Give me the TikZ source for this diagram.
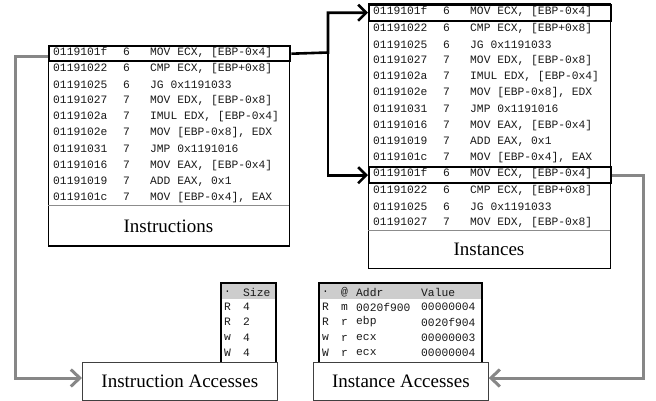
\documentclass[tikz,border=0pt]{standalone}
\usepackage{fontspec}
\setmainfont{Liberation Serif}
\newfontfamily\scrmono{Liberation Mono}
\usetikzlibrary{arrows.meta}
\definecolor{gcol}{RGB}{135,135,135}
\definecolor{hdrgray}{RGB}{205,205,205}
\newcommand\insrow[6]{\node[rowtxt] (#1) at (#2,#3) {\makebox[70pt][l]{#4}\makebox[27pt][l]{#5}#6};}
\begin{document}
\begin{tikzpicture}[x=1pt,y=-1pt,
  rowtxt/.style={anchor=west,inner sep=0pt,font=\scrmono\fontsize{11.3}{12}\selectfont,text=black!90},
  smalltxt/.style={anchor=west,inner sep=0pt,font=\scrmono\fontsize{11.3}{12}\selectfont,text=black!90},
  panel/.style={draw=black,line width=0.8pt,fill=white},
  hlbox/.style={draw=black,line width=2.4pt,inner sep=0pt,anchor=north west},
  lbl/.style={font=\fontsize{19}{20}\selectfont,inner sep=0pt},
  accbox/.style={draw=black!75,line width=0.7pt,fill=white,anchor=north west,inner sep=0pt},
  blk/.style={draw=black,line width=2.6pt,-{Straight Barb[length=8pt,width=16pt,line width=2.6pt]}},
  gry/.style={draw=gcol,line width=3pt,-{Straight Barb[length=9pt,width=17pt,line width=3pt]}}]
\useasboundingbox (0,0) rectangle (656,400);
\fill[white] (0,0) rectangle (656,400);

% ---------- Instructions panel ----------
\draw[panel] (48,45) rectangle (289,246);
\draw[black!45,line width=0.6pt] (48,205) -- (289,205);
\draw[black,line width=1.6pt] (48,246) -- (289,246);
\node[lbl] (inslbl) at (168.5,226) {Instructions};
\insrow{a1}{53}{52.5}{0119101f}{6}{MOV ECX, [EBP-0x4]}
\insrow{a2}{53}{68.6}{01191022}{6}{CMP ECX, [EBP+0x8]}
\insrow{a3}{53}{84.7}{01191025}{6}{JG 0x1191033}
\insrow{a4}{53}{100.8}{01191027}{7}{MOV EDX, [EBP-0x8]}
\insrow{a5}{53}{116.9}{0119102a}{7}{IMUL EDX, [EBP-0x4]}
\insrow{a6}{53}{133.0}{0119102e}{7}{MOV [EBP-0x8], EDX}
\insrow{a7}{53}{149.1}{01191031}{7}{JMP 0x1191016}
\insrow{a8}{53}{165.2}{01191016}{7}{MOV EAX, [EBP-0x4]}
\insrow{a9}{53}{181.3}{01191019}{7}{ADD EAX, 0x1}
\insrow{a10}{53}{197.4}{0119101c}{7}{MOV [EBP-0x4], EAX}
\node[hlbox,minimum width=241pt,minimum height=15pt] (hl1) at (48,45) {};

% ---------- Instances panel ----------
\draw[panel] (368,3) rectangle (610,268);
\draw[black!45,line width=0.6pt] (368,230) -- (610,230);
\node[lbl] (inslbl2) at (489,249) {Instances};
\insrow{b1}{373}{12.0}{0119101f}{6}{MOV ECX, [EBP-0x4]}
\insrow{b2}{373}{28.2}{01191022}{6}{CMP ECX, [EBP+0x8]}
\insrow{b3}{373}{44.4}{01191025}{6}{JG 0x1191033}
\insrow{b4}{373}{60.6}{01191027}{7}{MOV EDX, [EBP-0x8]}
\insrow{b5}{373}{76.8}{0119102a}{7}{IMUL EDX, [EBP-0x4]}
\insrow{b6}{373}{93.0}{0119102e}{7}{MOV [EBP-0x8], EDX}
\insrow{b7}{373}{109.2}{01191031}{7}{JMP 0x1191016}
\insrow{b8}{373}{125.4}{01191016}{7}{MOV EAX, [EBP-0x4]}
\insrow{b9}{373}{141.6}{01191019}{7}{ADD EAX, 0x1}
\insrow{b10}{373}{157.8}{0119101c}{7}{MOV [EBP-0x4], EAX}
\insrow{b11}{373}{174.0}{0119101f}{6}{MOV ECX, [EBP-0x4]}
\insrow{b12}{373}{190.2}{01191022}{6}{CMP ECX, [EBP+0x8]}
\insrow{b13}{373}{206.4}{01191025}{6}{JG 0x1191033}
\insrow{b14}{373}{222.6}{01191027}{7}{MOV EDX, [EBP-0x8]}
\node[hlbox,minimum width=242pt,minimum height=16pt] (hl2) at (368,3.5) {};
\node[hlbox,minimum width=242pt,minimum height=16pt] (hl3) at (368,166) {};

% ---------- Size table ----------
\fill[hdrgray] (221,283) rectangle (276,299);
\draw[black,line width=1.2pt] (221,283) rectangle (276,365);
\node[smalltxt] (s0a) at (224,292) {.};
\node[smalltxt] (s0b) at (243,292) {Size};
\node[smalltxt] (s1a) at (224,307) {R};
\node[smalltxt] (s1b) at (243,307) {4};
\node[smalltxt] (s2a) at (224,322) {R};
\node[smalltxt] (s2b) at (243,322) {2};
\node[smalltxt] (s3a) at (224,338) {w};
\node[smalltxt] (s3b) at (243,338) {4};
\node[smalltxt] (s4a) at (224,353) {W};
\node[smalltxt] (s4b) at (243,353) {4};

% ---------- Instance access table ----------
\fill[hdrgray] (319,283) rectangle (482,299);
\draw[black,line width=1.2pt] (319,283) rectangle (482,365);
\node[smalltxt] (t0a) at (322,292) {.};
\node[smalltxt] (t0b) at (341,292) {@};
\node[smalltxt] (t0c) at (356,292) {Addr};
\node[smalltxt] (t0d) at (421,292) {Value};
\node[smalltxt] (t1a) at (322,307) {R};
\node[smalltxt] (t1b) at (341,307) {m};
\node[smalltxt] (t1c) at (356,307) {0020f900};
\node[smalltxt] (t1d) at (421,307) {00000004};
\node[smalltxt] (t2a) at (322,322) {R};
\node[smalltxt] (t2b) at (341,322) {r};
\node[smalltxt] (t2c) at (356,322) {ebp};
\node[smalltxt] (t2d) at (421,322) {0020f904};
\node[smalltxt] (t3a) at (322,338) {w};
\node[smalltxt] (t3b) at (341,338) {r};
\node[smalltxt] (t3c) at (356,338) {ecx};
\node[smalltxt] (t3d) at (421,338) {00000003};
\node[smalltxt] (t4a) at (322,353) {W};
\node[smalltxt] (t4b) at (341,353) {r};
\node[smalltxt] (t4c) at (356,353) {ecx};
\node[smalltxt] (t4d) at (421,353) {00000004};

% ---------- Access label boxes ----------
\node[accbox,minimum width=195pt,minimum height=38pt] (ia) at (82,362) {};
\node[lbl] (ialbl) at (ia.center) {Instruction Accesses};
\node[accbox,minimum width=175pt,minimum height=38pt] (na) at (313,362) {};
\node[lbl] (nalbl) at (na.center) {Instance Accesses};

% ---------- Connectors ----------
\coordinate (jn) at (328,52.5);
\draw[blk] (hl1.east) -- (jn) |- (hl2.west);
\draw[blk] (jn) |- (hl3.west);
\coordinate (gl) at (15,378);
\coordinate (gr) at (643,378);
\draw[gry] ([yshift=-2.5pt]hl1.west) -| (gl) -- (gl -| ia.west);
\draw[gry] (hl3.east) -| (gr) -- (gr -| na.east);
\end{tikzpicture}
\end{document}
